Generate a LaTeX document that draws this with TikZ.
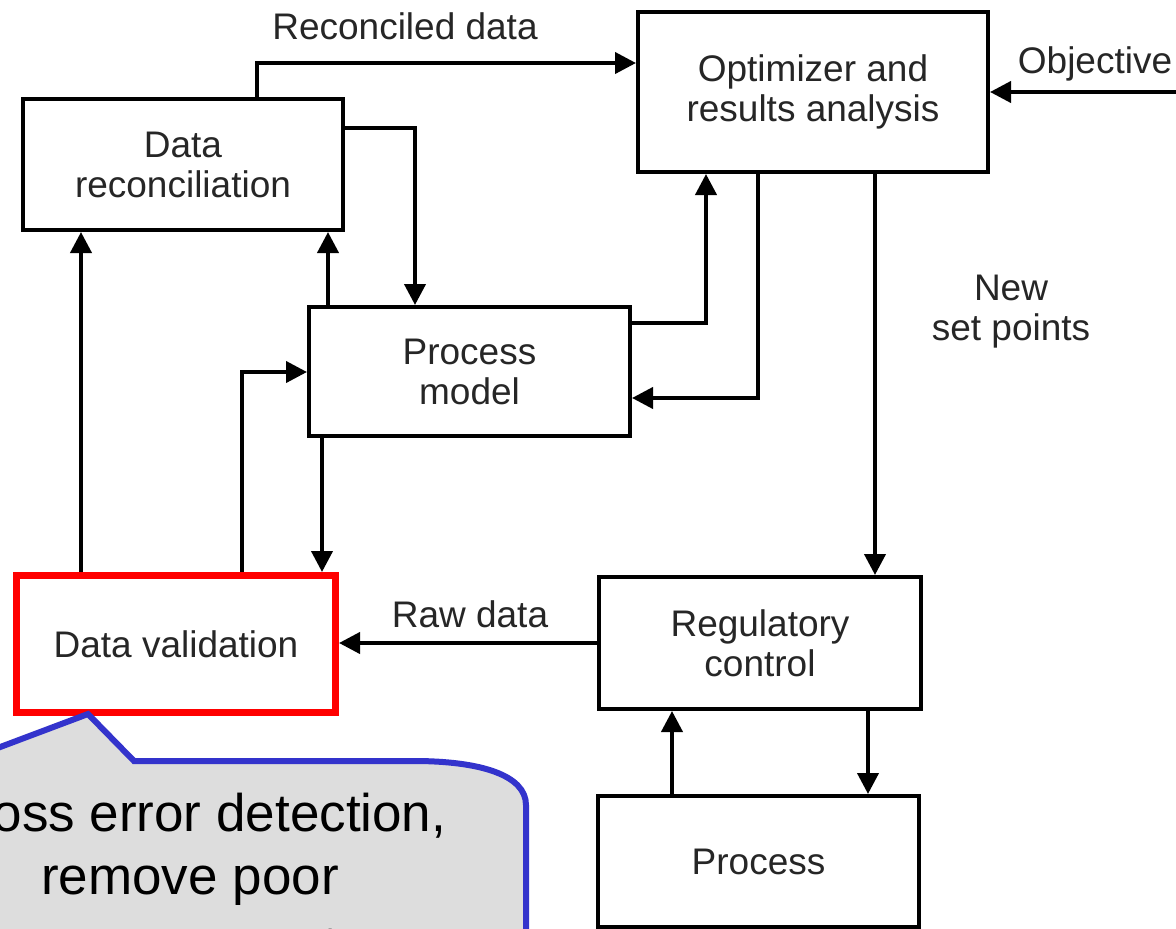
\documentclass[tikz,border=0pt]{standalone}
\usepackage{fontspec}
\setmainfont{Liberation Sans}
\usetikzlibrary{arrows.meta}
\definecolor{calloutblue}{RGB}{51,51,204}
\definecolor{calloutgrey}{RGB}{221,221,221}
\newcommand\diagfont{\fontsize{37}{40}\selectfont}
\newcommand\notefont{\fontsize{53}{63}\selectfont}
\begin{document}
\begin{tikzpicture}[x=1pt,y=-1pt,
  box/.style={draw, line width=4pt, inner sep=0pt, align=center, font=\diagfont, text=black!85},
  redbox/.style={box, draw=red, line width=7pt},
  arr/.style={line width=4pt, -{Triangle[length=21pt,width=21pt]}},
  lbl/.style={font=\diagfont, text=black!85, inner sep=0pt, anchor=base, align=center}]
\useasboundingbox (0,0) rectangle (1176,929);
\fill[white] (0,0) rectangle (1176,929);
\clip (0,0) rectangle (1176,929);

% blocks
\node[box, minimum width=320pt, minimum height=131pt] (recon) at (183,164.5) {Data\\reconciliation};
\node[box, minimum width=350pt, minimum height=160pt] (opt) at (813,92) {Optimizer and\\results analysis};
\node[box, minimum width=321pt, minimum height=129pt] (pm) at (469.5,371.5) {Process\\model};
\node[redbox, minimum width=319pt, minimum height=137pt] (dv) at (176,644) {Data validation};
\node[box, minimum width=322pt, minimum height=132pt] (reg) at (760,643) {Regulatory\\control};
\node[box, minimum width=321pt, minimum height=131pt] (proc) at (758.5,861.5) {Process};

% routing points
\coordinate (r1) at (257,63);
\coordinate (r2) at (415,128);
\coordinate (r3) at (328,0);
\coordinate (r4) at (81,0);
\coordinate (r5) at (242,372);
\coordinate (r6) at (322,0);
\coordinate (r7) at (706,323);
\coordinate (r8) at (758,398);
\coordinate (r9) at (875,0);
\coordinate (r11) at (672,0);
\coordinate (r12) at (868,0);
\coordinate (objin) at (1180,92);

% connectors
\draw[arr] (recon.north -| r1) |- (opt.west |- r1);
\draw[arr] (recon.east |- r2) -| (pm.north -| r2);
\draw[arr] (pm.north -| r3) -- (recon.south -| r3);
\draw[arr] (dv.north -| r4) -- (recon.south -| r4);
\draw[arr] (dv.north -| r5) |- (pm.west |- r5);
\draw[arr] (pm.south -| r6) -- (dv.north -| r6);
\draw[arr] (pm.east |- r7) -| (opt.south -| r7);
\draw[arr] (opt.south -| r8) |- (pm.east |- r8);
\draw[arr] (opt.south -| r9) -- (reg.north -| r9);
\draw[arr] (reg.west) -- (dv.east |- reg.west);
\draw[arr] (proc.north -| r11) -- (reg.south -| r11);
\draw[arr] (reg.south -| r12) -- (proc.north -| r12);
\draw[arr] (objin) -- (opt.east |- objin);

% connector labels
\node[lbl] (lrec) at (405,39) {Reconciled data};
\node[lbl] (lobj) at (1095,73) {Objective};
\node[lbl] (lnew) at (1011,300) {New};
\node[lbl] (lset) at (1011,340) {set points};
\node[lbl] (lraw) at (470,627) {Raw data};

% callout attached to the validation block
\draw[line width=6pt, draw=calloutblue, fill=calloutgrey, line join=miter]
  (-300,761) -- (-37,761) -- (88,714) -- (134,761) -- (414,761)
  .. controls (480,761) and (526,775) .. (526,805)
  -- (526,1100) -- (-300,1100) -- cycle;
\node[font=\notefont, align=center, inner sep=0pt] (note) at (190,878.5)
  {Gross error detection,\\remove poor\\[6pt]measurements};
\end{tikzpicture}
\end{document}
